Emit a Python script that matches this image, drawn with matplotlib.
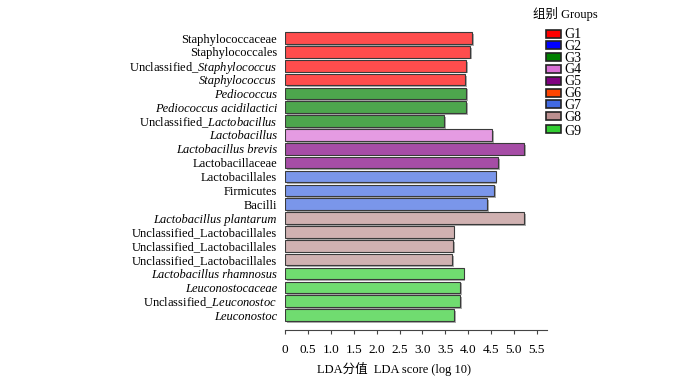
import matplotlib
matplotlib.use("Agg")
import matplotlib.pyplot as plt
import matplotlib.patheffects as pe
from matplotlib.patches import Rectangle
from matplotlib.colors import to_rgb

plt.rcParams['font.family'] = ['Liberation Serif', 'Noto Sans CJK SC']
plt.rcParams['mathtext.fontset'] = 'custom'
plt.rcParams['mathtext.rm'] = 'Liberation Serif'
plt.rcParams['mathtext.it'] = 'Liberation Serif:italic'

# data (top to bottom); *...* marks italic parts
labels = [
    "Staphylococcaceae", "Staphylococcales", "Unclassified_*Staphylococcus*",
    "*Staphylococcus*", "*Pediococcus*", "*Pediococcus acidilactici*",
    "Unclassified_*Lactobacillus*", "*Lactobacillus*", "*Lactobacillus brevis*",
    "Lactobacillaceae", "Lactobacillales", "Firmicutes", "Bacilli",
    "*Lactobacillus plantarum*", "Unclassified_Lactobacillales",
    "Unclassified_Lactobacillales", "Unclassified_Lactobacillales",
    "*Lactobacillus rhamnosus*", "*Leuconostocaceae*",
    "Unclassified_*Leuconostoc*", "*Leuconostoc*",
]
scores = [4.09, 4.04, 3.95, 3.94, 3.95, 3.95, 3.47, 4.53, 5.22, 4.65,
          4.60, 4.57, 4.41, 5.23, 3.68, 3.67, 3.64, 3.90, 3.83, 3.83, 3.70]
bar_groups = ["G1", "G1", "G1", "G1", "G3", "G3", "G3", "G4", "G5", "G5",
              "G7", "G7", "G7", "G8", "G8", "G8", "G8", "G9", "G9", "G9", "G9"]
groups = ["G1", "G2", "G3", "G4", "G5", "G6", "G7", "G8", "G9"]
group_colors = ["#FF0000", "#0000FF", "#008000", "#DA70D6", "#800080",
                "#FF4500", "#4169E1", "#BC8F8F", "#32CD32"]
xticks = [0, 0.5, 1.0, 1.5, 2.0, 2.5, 3.0, 3.5, 4.0, 4.5, 5.0, 5.5]
xticklabels = ["0", "0.5", "1.0", "1.5", "2.0", "2.5", "3.0", "3.5", "4.0",
               "4.5", "5.0", "5.5"]


def to_label(s):
    """Return (text, fully_italic)."""
    if s.startswith("*") and s.endswith("*") and s.count("*") == 2:
        return s[1:-1], True
    parts = s.split("*")
    out = ""
    for i, p in enumerate(parts):
        if not p:
            continue
        if i % 2 == 1:
            out += r"$\mathit{" + p.replace(" ", r"\ ") + "}$"
        else:
            out += p
    return out, False


def lighten(c, a=0.7):
    r = to_rgb(c)
    return tuple(a * v + (1 - a) for v in r)


cmap = dict(zip(groups, group_colors))

fig = plt.figure(figsize=(7.0, 3.79), dpi=100)
W, H = 700, 379
left, right = 285.3, 547.3
top_px, bot_px = 29.7, 330
ax = fig.add_axes([left / W, 1 - bot_px / H, (right - left) / W, (bot_px - top_px) / H])

y = list(range(len(labels)))
bars = ax.barh(y, scores, height=0.84,
               color=[lighten(cmap[g]) for g in bar_groups],
               edgecolor="#3a3a3a", linewidth=0.8)
for b in bars:
    b.set_path_effects([pe.SimplePatchShadow(offset=(1.3, -1.3), shadow_rgbFace="#999999", alpha=0.8),
                        pe.Normal()])

ax.set_ylim(20 + 1.08, -0.6)
ax.set_xlim(0, 5.73)
ax.set_yticks(y)
conv = [to_label(l) for l in labels]
tls = ax.set_yticklabels([c[0] for c in conv], fontsize=9)
for t, (_, it) in zip(tls, conv):
    if it:
        t.set_fontstyle("italic")
ax.tick_params(axis="y", length=0, pad=6)
ax.set_xticks(xticks)
ax.set_xticklabels(xticklabels, fontsize=9.5)
ax.tick_params(axis="x", length=3, width=0.8, color="#444444", pad=7)
for s in ["top", "right", "left"]:
    ax.spines[s].set_visible(False)
ax.spines["bottom"].set_color("#444444")
ax.spines["bottom"].set_linewidth(0.8)

fig.text(394 / W, 1 - 369 / H, "LDA分值  LDA score (log 10)", ha="center", va="center", fontsize=9)

# legend
fig.text(533 / W, 1 - 14 / H, "组别 Groups", ha="left", va="center", fontsize=9)
for i, (g, c) in enumerate(zip(groups, group_colors)):
    yc = 33.5 + i * 11.8
    if i == 8:
        yc += 1.5
    r = Rectangle((546 / W, 1 - (yc + 4) / H), 15 / W, 8 / H, transform=fig.transFigure,
                  facecolor=c, edgecolor="#222222", linewidth=1.2)
    fig.add_artist(r)
    fig.text(564 / W, 1 - (yc + (2.5 if i == 8 else 1.0)) / H, g, ha="left", va="center", fontsize=10)

fig.savefig("out.png", dpi=100)
